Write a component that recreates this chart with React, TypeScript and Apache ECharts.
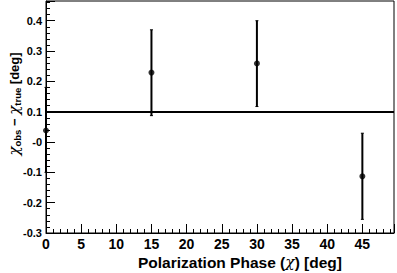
import React, { useEffect, useRef } from "react";
import * as echarts from "echarts";

const phases = [0, 15, 30, 45];
const residuals = [0.038, 0.229, 0.259, -0.113];
const errLow = [-0.1, 0.087, 0.117, -0.255];
const errHigh = [0.18, 0.37, 0.4, 0.029];
const meanOffset = 0.104;
const yTickLabels = ["-0.3", "-0.2", "-0.1", "-0", "0.1", "0.2", "0.3", "0.4"];

const FONT = "'Liberation Sans', Arial, Helvetica, sans-serif";

export default function App() {
  const ref = useRef<HTMLDivElement>(null);
  useEffect(() => {
    if (!ref.current) return;
    const chart = echarts.init(ref.current, null, { renderer: "svg" });
    const errData = phases.map((x, i) => [x, errLow[i], errHigh[i]]);
    chart.setOption({
      animation: false,
      grid: {
        left: 46,
        right: 1,
        top: 1,
        bottom: 40,
        show: true,
        borderColor: "#000",
        borderWidth: 1,
        backgroundColor: "transparent",
      },
      xAxis: {
        type: "value",
        min: 0,
        max: 49.5,
        interval: 5,
        axisLine: { show: true, onZero: false, lineStyle: { color: "#000", width: 1 } },
        axisTick: { show: true, inside: true, length: 9, lineStyle: { color: "#000" } },
        minorTick: { show: true, splitNumber: 5, length: 4, lineStyle: { color: "#000" } },
        splitLine: { show: false },
        axisLabel: {
          color: "#000",
          fontFamily: FONT,
          fontWeight: "bold",
          fontSize: 14,
          margin: 4,
          formatter: (v: number) => (Number.isInteger(v) ? String(v) : ""),
        },
      },
      yAxis: {
        type: "value",
        min: -0.3,
        max: 0.465,
        interval: 0.1,
        axisLine: { show: true, onZero: false, lineStyle: { color: "#000", width: 1 } },
        axisTick: { show: true, inside: true, length: 9, lineStyle: { color: "#000" } },
        minorTick: { show: true, splitNumber: 5, length: 4, lineStyle: { color: "#000" } },
        splitLine: { show: false },
        axisLabel: {
          color: "#000",
          fontFamily: FONT,
          fontWeight: "bold",
          fontSize: 11,
          margin: 4,
          formatter: (v: number, i: number) => yTickLabels[i] ?? "",
        },
      },
      series: [
        {
          type: "custom",
          renderItem: (params: any, api: any) => {
            const x = api.value(0);
            const lo = api.coord([x, api.value(1)]);
            const hi = api.coord([x, api.value(2)]);
            const style = { stroke: "#000", lineWidth: 2 };
            return {
              type: "group",
              children: [
                { type: "line", shape: { x1: lo[0], y1: lo[1], x2: hi[0], y2: hi[1] }, style },
                { type: "line", shape: { x1: lo[0] - 1.5, y1: lo[1], x2: lo[0] + 1.5, y2: lo[1] }, style: { stroke: "#000", lineWidth: 1 } },
                { type: "line", shape: { x1: hi[0] - 1.5, y1: hi[1], x2: hi[0] + 1.5, y2: hi[1] }, style: { stroke: "#000", lineWidth: 1 } },
              ],
            };
          },
          encode: { x: 0, y: [1, 2] },
          data: errData,
          clip: false,
          z: 3,
        },
        {
          type: "scatter",
          data: phases.map((x, i) => [x, residuals[i]]),
          symbol: "circle",
          symbolSize: 6,
          itemStyle: { color: "#000" },
          z: 4,
          markLine: {
            silent: true,
            symbol: ["none", "none"],
            label: { show: false },
            lineStyle: { color: "#000", width: 2, type: "solid" },
            data: [{ yAxis: meanOffset }],
          },
        },
      ],
      graphic: [
        {
          type: "text",
          x: 14,
          y: 104,
          rotation: Math.PI / 2,
          style: {
            text: "{a|χ}{s|obs}{b| − }{a|χ}{s|true}{b| [deg]}",
            align: "center",
            verticalAlign: "middle",
            fill: "#000",
            rich: {
              a: { fontFamily: "'DejaVu Serif', serif", fontStyle: "italic", fontSize: 15, fill: "#000" },
              b: { fontFamily: FONT, fontWeight: "bold", fontSize: 13, fill: "#000" },
              s: { fontFamily: FONT, fontWeight: "bold", fontSize: 9.5, fill: "#000", padding: [7, 0, 0, 0] },
            },
          },
        },
        {
          type: "text",
          x: 342,
          y: 262,
          style: {
            text: "Polarization Phase ({c|χ}) [deg]",
            align: "right",
            verticalAlign: "middle",
            fontFamily: FONT,
            fontWeight: "bold",
            fontSize: 15.5,
            fill: "#000",
            rich: {
              c: { fontFamily: "'DejaVu Serif', serif", fontStyle: "italic", fontSize: 15.5, fill: "#000" },
            },
          },
        },
      ],
    });
    return () => chart.dispose();
  }, []);
  return (
    <div
      ref={ref}
      style={{ position: "fixed", left: 0, top: 0, width: 397, height: 273, background: "#fff" }}
    />
  );
}
